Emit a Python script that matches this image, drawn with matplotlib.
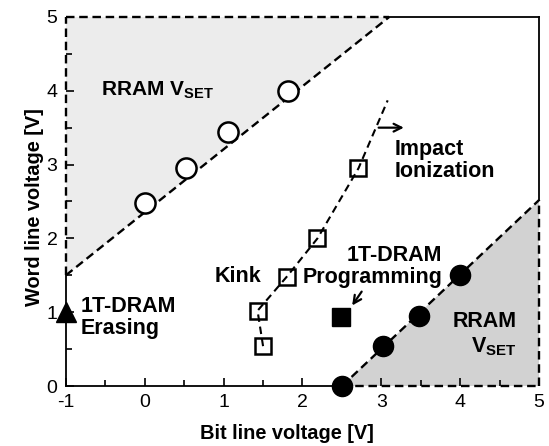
import matplotlib
matplotlib.use("Agg")
import matplotlib.pyplot as plt

plt.rcParams['font.family'] = ['Liberation Sans', 'DejaVu Sans']
plt.rcParams['axes.unicode_minus'] = False
plt.rcParams['mathtext.fontset'] = 'custom'
plt.rcParams['mathtext.rm'] = 'Liberation Sans'
plt.rcParams['mathtext.bf'] = 'Liberation Sans:bold'
plt.rcParams['mathtext.default'] = 'bf'

# Data
rram_upper_x = [0.0, 0.52, 1.06, 1.81]
rram_upper_y = [2.48, 2.96, 3.44, 4.0]
upper_line_x = [-1.0, 3.1]
upper_line_y = [1.5, 5.0]

rram_lower_x = [2.5, 3.02, 3.48, 4.0]
rram_lower_y = [0.0, 0.54, 0.95, 1.5]
lower_line_x = [2.5, 5.0]
lower_line_y = [0.0, 2.52]

kink_x = [1.5, 1.43, 1.8, 2.19, 2.71]
kink_y = [0.54, 1.02, 1.48, 2.0, 2.95]
kink_line_x = [1.5, 1.43, 1.8, 2.19, 2.71, 3.08]
kink_line_y = [0.54, 1.02, 1.48, 2.0, 2.95, 3.87]

prog_x = [2.49]
prog_y = [0.94]
erase_x = [-1.0]
erase_y = [1.0]

xlim = (-1, 5)
ylim = (0, 5)
xticks = [-1, 0, 1, 2, 3, 4, 5]
yticks = [0, 1, 2, 3, 4, 5]

fig = plt.figure(figsize=(5.49, 4.46), dpi=100)
ax = fig.add_axes([0.120, 0.1345, 0.862, 0.8275])
ax.set_xlim(*xlim)
ax.set_ylim(*ylim)

# shaded regions
ax.fill([xlim[0], upper_line_x[0], upper_line_x[1]],
        [ylim[1], upper_line_y[0], upper_line_y[1]],
        color='#ececec', zorder=0, lw=0)
ax.fill([lower_line_x[0], lower_line_x[1], xlim[1]],
        [lower_line_y[0], lower_line_y[1], ylim[0]],
        color='#d2d2d2', zorder=0, lw=0)

dash = dict(color='black', lw=1.7, ls=(0, (3.6, 2.0)), clip_on=False)
solid = dict(color='black', lw=1.3, clip_on=False)

# borders
for s in ax.spines.values():
    s.set_visible(False)
ax.plot([xlim[0], xlim[0]], [ylim[0], upper_line_y[0]], **solid, zorder=3)
ax.plot([xlim[0], xlim[0]], [upper_line_y[0], ylim[1]], **dash, zorder=3)
ax.plot([xlim[0], upper_line_x[1]], [ylim[1], ylim[1]], **dash, zorder=3)
ax.plot([upper_line_x[1], xlim[1]], [ylim[1], ylim[1]], **solid, zorder=3)
ax.plot([xlim[1], xlim[1]], [lower_line_y[1], ylim[1]], **solid, zorder=3)
ax.plot([xlim[1], xlim[1]], [ylim[0], lower_line_y[1]], **dash, zorder=3)
ax.plot([xlim[0], lower_line_x[0]], [ylim[0], ylim[0]], **solid, zorder=3)
ax.plot([lower_line_x[0], xlim[1]], [ylim[0], ylim[0]], **dash, zorder=3)

# boundary lines
ax.plot(upper_line_x, upper_line_y, **dash, zorder=2)
ax.plot(lower_line_x, lower_line_y, **dash, zorder=2)
ax.plot(kink_line_x, kink_line_y, color='black', lw=1.5, ls=(0, (3.6, 2.3)), zorder=2)

# markers
ax.plot(rram_upper_x, rram_upper_y, 'o', ms=14.5, mfc='white', mec='black', mew=1.8, zorder=4)
ax.plot(rram_lower_x, rram_lower_y, 'o', ms=14.5, mfc='black', mec='black', zorder=5, clip_on=False)
ax.plot(kink_x, kink_y, 's', ms=12, mfc='none', mec='black', mew=1.8, zorder=4)
ax.plot(prog_x, prog_y, 's', ms=13.5, mfc='black', mec='black', zorder=4)
ax.plot(erase_x, erase_y, '^', ms=14, mfc='black', mec='black', zorder=5, clip_on=False)

# ticks
ax.set_xticks(xticks)
ax.set_yticks(yticks)
ax.set_xticks([x + 0.5 for x in xticks[:-1]], minor=True)
ax.set_yticks([y + 0.5 for y in yticks[:-1]], minor=True)
ax.tick_params(which='both', direction='in', top=False, right=False, labelsize=14, pad=6)
ax.tick_params(which='major', length=6, width=1.2)
ax.tick_params(which='minor', length=4, width=1.2)

ax.set_xlabel('Bit line voltage [V]', fontsize=14.4, fontweight='bold', labelpad=9, x=0.467)
ax.set_ylabel('Word line voltage [V]', fontsize=14.4, fontweight='bold', labelpad=2, y=0.485)

tk = dict(fontsize=15.5, fontweight='bold')
ax.text(-0.55, 4.0, r'RRAM V$_{\mathbf{SET}}$', va='center', ha='left', fontsize=15, fontweight='bold')
ax.text(4.72, 0.70, 'RRAM\n' + r'V$_{\mathbf{SET}}$', va='center', ha='right', multialignment='right', **tk)
ax.text(-0.81, 0.93, '1T-DRAM\nErasing', va='center', ha='left', linespacing=1.05, **tk)
ax.text(0.88, 1.48, 'Kink', va='center', ha='left', **tk)
ax.text(3.17, 3.05, 'Impact\nIonization', va='center', ha='left', linespacing=1.05, **tk)
ax.text(3.77, 1.62, '1T-DRAM\nProgramming', va='center', ha='right', multialignment='right',
        linespacing=1.05, **tk)

ax.annotate('', xy=(3.32, 3.5), xytext=(2.93, 3.5),
            arrowprops=dict(arrowstyle='->', lw=1.6, color='black', mutation_scale=14))
ax.annotate('', xy=(2.61, 1.06), xytext=(2.77, 1.31),
            arrowprops=dict(arrowstyle='->', lw=1.6, color='black', mutation_scale=14))

fig.savefig('out.png', dpi=100)
